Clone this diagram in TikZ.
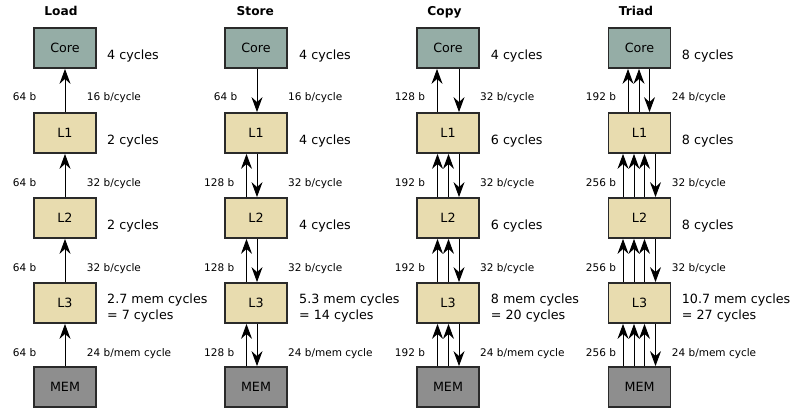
\documentclass[tikz,border=0pt]{standalone}
\usepackage{fontspec}
\setmainfont{DejaVu Sans}
\usetikzlibrary{arrows.meta}
\definecolor{corefill}{HTML}{95ADA6}
\definecolor{cachefill}{HTML}{E8DCAF}
\definecolor{memfill}{HTML}{8E8E8E}
\definecolor{boxline}{HTML}{2A2A2A}
\begin{document}
\begin{tikzpicture}[x=1pt,y=-1pt,
 unit/.style={draw=boxline, line width=1.8pt, minimum width=62pt, minimum height=40pt, inner sep=0pt, font=\fontsize{12.7}{14}\selectfont},
 corebox/.style={unit, fill=corefill},
 cachebox/.style={unit, fill=cachefill},
 membox/.style={unit, fill=memfill},
 title/.style={font=\fontsize{12.2}{14}\selectfont\bfseries, anchor=base, inner sep=0pt},
 small/.style={font=\fontsize{10.5}{12}\selectfont, anchor=base west, inner sep=0pt},
 cyc/.style={font=\fontsize{12.7}{16}\selectfont, anchor=base west, inner sep=0pt},
 arr/.style={line width=1pt, -{Stealth[length=15pt,width=11pt,inset=5pt]}}
]
\fill[white] (0,0) rectangle (791,411);
\useasboundingbox (0,0) rectangle (791,411);

\foreach \c/\x/\t/\tx in {1/65/Load/61, 2/256/Store/255.3, 3/448/Copy/444.5, 4/639.5/Triad/636} {
  \node[title] (t\c) at (\tx,15.5) {\t};
  \node[corebox] (core\c) at (\x,48) {Core};
  \node[cachebox] (la\c) at (\x,133) {L1};
  \node[cachebox] (lb\c) at (\x,218) {L2};
  \node[cachebox] (lc\c) at (\x,303) {L3};
  \node[membox] (mem\c) at (\x,387) {MEM};
}

% Load arrows
\draw[arr] (la1.north) -- (core1.south);
\foreach \u/\l in {la1/lb1, lb1/lc1, lc1/mem1}
  \draw[arr] (\l.north) -- (\u.south);

% Store arrows
\draw[arr] ([xshift=1pt]core2.south) -- ([xshift=1pt]la2.north);
\foreach \u/\l in {la2/lb2, lb2/lc2, lc2/mem2} {
  \draw[arr] ([xshift=-9.5pt]\l.north) -- ([xshift=-9.5pt]\u.south);
  \draw[arr] ([xshift=1pt]\u.south) -- ([xshift=1pt]\l.north);
}

% Copy arrows
\draw[arr] ([xshift=-11pt]la3.north) -- ([xshift=-11pt]core3.south);
\draw[arr] ([xshift=11pt]core3.south) -- ([xshift=11pt]la3.north);
\foreach \u/\l in {la3/lb3, lb3/lc3, lc3/mem3} {
  \draw[arr] ([xshift=-10.5pt]\l.north) -- ([xshift=-10.5pt]\u.south);
  \draw[arr] ([xshift=0.5pt]\l.north) -- ([xshift=0.5pt]\u.south);
  \draw[arr] ([xshift=11pt]\u.south) -- ([xshift=11pt]\l.north);
}

% Triad arrows
\draw[arr] ([xshift=-11.5pt]la4.north) -- ([xshift=-11.5pt]core4.south);
\draw[arr] ([xshift=-0.5pt]la4.north) -- ([xshift=-0.5pt]core4.south);
\draw[arr] ([xshift=10pt]core4.south) -- ([xshift=10pt]la4.north);
\foreach \u/\l in {la4/lb4, lb4/lc4, lc4/mem4} {
  \draw[arr] ([xshift=-16.5pt]\l.north) -- ([xshift=-16.5pt]\u.south);
  \draw[arr] ([xshift=-5.5pt]\l.north) -- ([xshift=-5.5pt]\u.south);
  \draw[arr] ([xshift=5pt]\l.north) -- ([xshift=5pt]\u.south);
  \draw[arr] ([xshift=16pt]\u.south) -- ([xshift=16pt]\l.north);
}

% small labels
\foreach \y/\r in {100.8/1, 186.5/2, 271.5/3, 356.1/4} {
  \node[small] (lw1\r) at (12.7,\y) {64 b};
}
\node[small] (lw21) at (213.7,100.8) {64 b};
\node[small] (lw22) at (204,186.5) {128 b};
\node[small] (lw23) at (204,271.5) {128 b};
\node[small] (lw24) at (204,356.1) {128 b};
\node[small] (lw31) at (394.7,100.8) {128 b};
\node[small] (lw32) at (394.7,186.5) {192 b};
\node[small] (lw33) at (394.7,271.5) {192 b};
\node[small] (lw34) at (394.7,356.1) {192 b};
\node[small] (lw41) at (585.7,100.8) {192 b};
\node[small] (lw42) at (585.7,186.5) {256 b};
\node[small] (lw43) at (585.7,271.5) {256 b};
\node[small] (lw44) at (585.7,356.1) {256 b};

\foreach \c/\x/\first in {1/86.7/16, 2/288/16, 3/480/32, 4/671.7/24} {
  \node[small] (rw\c a) at (\x,100.8) {\first{} b/cycle};
  \node[small] (rw\c b) at (\x,186.5) {32 b/cycle};
  \node[small] (rw\c c) at (\x,271.5) {32 b/cycle};
  \node[small] (rw\c d) at (\x,356.1) {24 b/mem cycle};
}

% cycle labels
\foreach \c/\x/\a/\b/\d/\m/\n in {1/107/4/2/2/2.7/7, 2/299/4/4/4/5.3/14, 3/490.7/4/6/6/8/20, 4/681.7/8/8/8/10.7/27} {
  \node[cyc] (cy\c a) at (\x,59.3) {\a{} cycles};
  \node[cyc] (cy\c b) at (\x,144.3) {\b{} cycles};
  \node[cyc] (cy\c c) at (\x,229.3) {\d{} cycles};
  \node[cyc] (cy\c d) at (\x,303.4) {\m{} mem cycles};
  \node[cyc] (cy\c e) at (\x,319) {= \n{} cycles};
}
\end{tikzpicture}
\end{document}
